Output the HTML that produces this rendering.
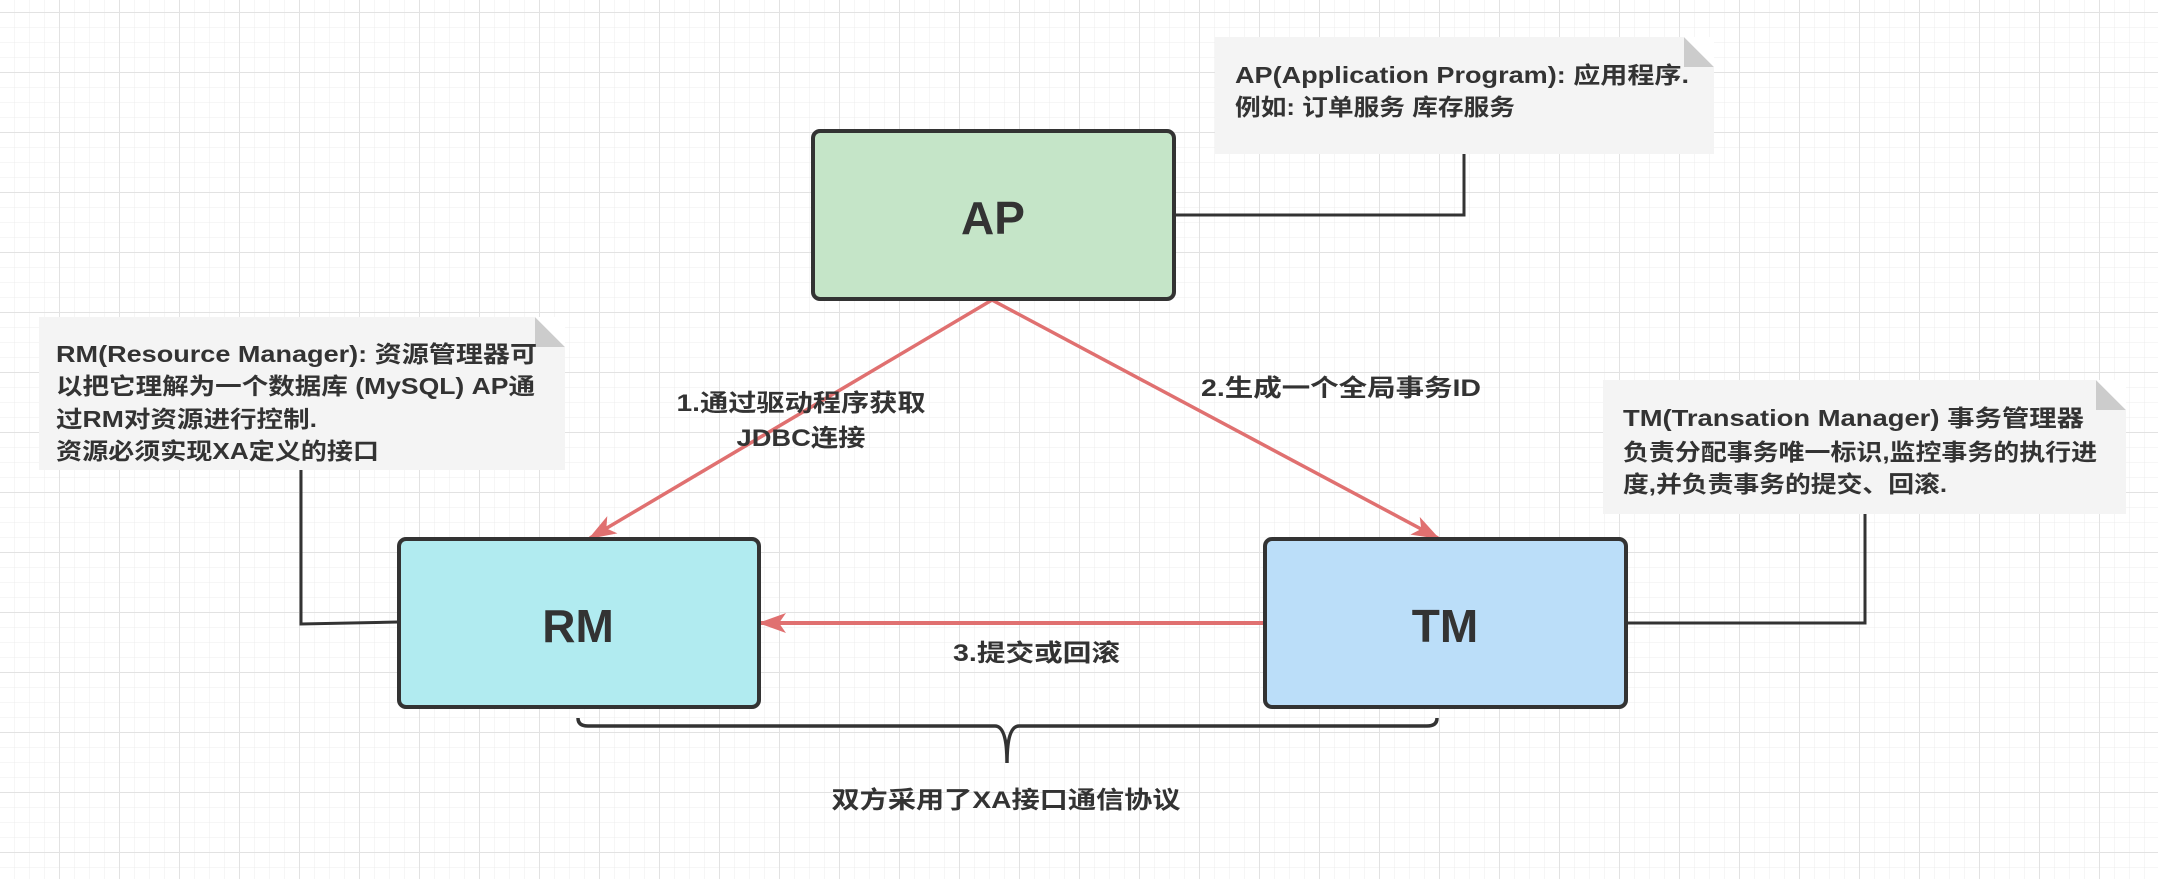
<!DOCTYPE html>
<html><head><meta charset="utf-8"><style>
html,body{margin:0;padding:0;background:#fff;}
svg{display:block;}
text{font-family:"Liberation Sans","Noto Sans CJK SC",sans-serif;font-weight:bold;fill:#333;}
</style></head><body>
<svg width="2158" height="879" viewBox="0 0 2158 879" xmlns="http://www.w3.org/2000/svg">
<defs>
<pattern id="gmin" x="0" y="13" width="15" height="15" patternUnits="userSpaceOnUse">
<path d="M15 0V15M0 15H15" stroke="#ececec" stroke-width="1" fill="none"/>
</pattern>
<pattern id="gmaj" x="0" y="13" width="60" height="60" patternUnits="userSpaceOnUse">
<path d="M60 0V60M0 60H60" stroke="#e2e2e2" stroke-width="2" fill="none"/>
</pattern>
<marker id="ah" markerWidth="28" markerHeight="20" refX="26" refY="10" orient="auto" markerUnits="userSpaceOnUse">
<path d="M0 0L28 10L0 20L7 10Z" fill="#e07070"/>
</marker>
</defs>
<rect width="2158" height="879" fill="#fff"/>
<rect width="2158" height="879" fill="url(#gmin)"/>
<rect width="2158" height="879" fill="url(#gmaj)"/>

<path d="M1174 215H1464V154" stroke="#333" stroke-width="3" fill="none"/>
<path d="M301 470V624L398 622" stroke="#333" stroke-width="3" fill="none"/>
<path d="M1865 514V623H1626" stroke="#333" stroke-width="3" fill="none"/>

<g>
<rect x="1215" y="37" width="499" height="117" fill="#f4f4f4"/>
<path d="M1684 37L1714 67H1684Z" fill="#ccc"/>
<path d="M1684 37H1714V67Z" fill="#fff"/>
<text x="1235" y="83" font-size="23" textLength="454" lengthAdjust="spacingAndGlyphs">AP(Application Program): 应用程序.</text>
<text x="1235" y="115" font-size="23" textLength="280" lengthAdjust="spacingAndGlyphs">例如: 订单服务 库存服务</text>
</g>
<g>
<rect x="39" y="317" width="526" height="153" fill="#f4f4f4"/>
<path d="M535 317L565 347H535Z" fill="#ccc"/>
<path d="M535 317H565V347Z" fill="#fff"/>
<text x="56" y="362" font-size="23" textLength="481" lengthAdjust="spacingAndGlyphs">RM(Resource Manager): 资源管理器可</text>
<text x="56" y="394" font-size="23" textLength="479" lengthAdjust="spacingAndGlyphs">以把它理解为一个数据库 (MySQL) AP通</text>
<text x="56" y="427" font-size="23" textLength="261" lengthAdjust="spacingAndGlyphs">过RM对资源进行控制.</text>
<text x="56" y="459" font-size="23" textLength="323" lengthAdjust="spacingAndGlyphs">资源必须实现XA定义的接口</text>
</g>
<g>
<rect x="1603" y="380" width="523" height="134" fill="#f4f4f4"/>
<path d="M2096 380L2126 410H2096Z" fill="#ccc"/>
<path d="M2096 380H2126V410Z" fill="#fff"/>
<text x="1623" y="426" font-size="23" textLength="461" lengthAdjust="spacingAndGlyphs">TM(Transation Manager) 事务管理器</text>
<text x="1623" y="460" font-size="23" textLength="474" lengthAdjust="spacingAndGlyphs">负责分配事务唯一标识,监控事务的执行进</text>
<text x="1623" y="492" font-size="23" textLength="324" lengthAdjust="spacingAndGlyphs">度,并负责事务的提交、回滚.</text>
</g>

<line x1="992" y1="300" x2="590" y2="538" stroke="#e07070" stroke-width="3.5" marker-end="url(#ah)"/>
<line x1="992" y1="300" x2="1438" y2="538" stroke="#e07070" stroke-width="3.5" marker-end="url(#ah)"/>
<line x1="1264" y1="623" x2="760" y2="623" stroke="#e07070" stroke-width="4" marker-end="url(#ah)"/>

<rect x="813" y="131" width="361" height="168" rx="7" fill="#c5e5c8" stroke="#333" stroke-width="4"/>
<text x="993" y="234" font-size="46" text-anchor="middle">AP</text>
<rect x="399" y="539" width="360" height="168" rx="7" fill="#b1ebf0" stroke="#333" stroke-width="4"/>
<text x="578" y="642" font-size="46" text-anchor="middle">RM</text>
<rect x="1265" y="539" width="361" height="168" rx="7" fill="#bbdef9" stroke="#333" stroke-width="4"/>
<text x="1445" y="642" font-size="46" text-anchor="middle">TM</text>

<text x="801" y="411" font-size="24" text-anchor="middle" textLength="249" lengthAdjust="spacingAndGlyphs">1.通过驱动程序获取</text>
<text x="801" y="446" font-size="24" text-anchor="middle" textLength="129" lengthAdjust="spacingAndGlyphs">JDBC连接</text>
<text x="1201" y="396" font-size="24" textLength="280" lengthAdjust="spacingAndGlyphs">2.生成一个全局事务ID</text>
<text x="953" y="661" font-size="24" textLength="167" lengthAdjust="spacingAndGlyphs">3.提交或回滚</text>

<path d="M578 718Q578 726 588 726H995Q1007 726 1007 763Q1007 726 1019 726H1427Q1437 726 1437 718" stroke="#333" stroke-width="3.5" fill="none"/>
<text x="1006" y="808" font-size="24" text-anchor="middle" textLength="349" lengthAdjust="spacingAndGlyphs">双方采用了XA接口通信协议</text>
</svg>
</body></html>
